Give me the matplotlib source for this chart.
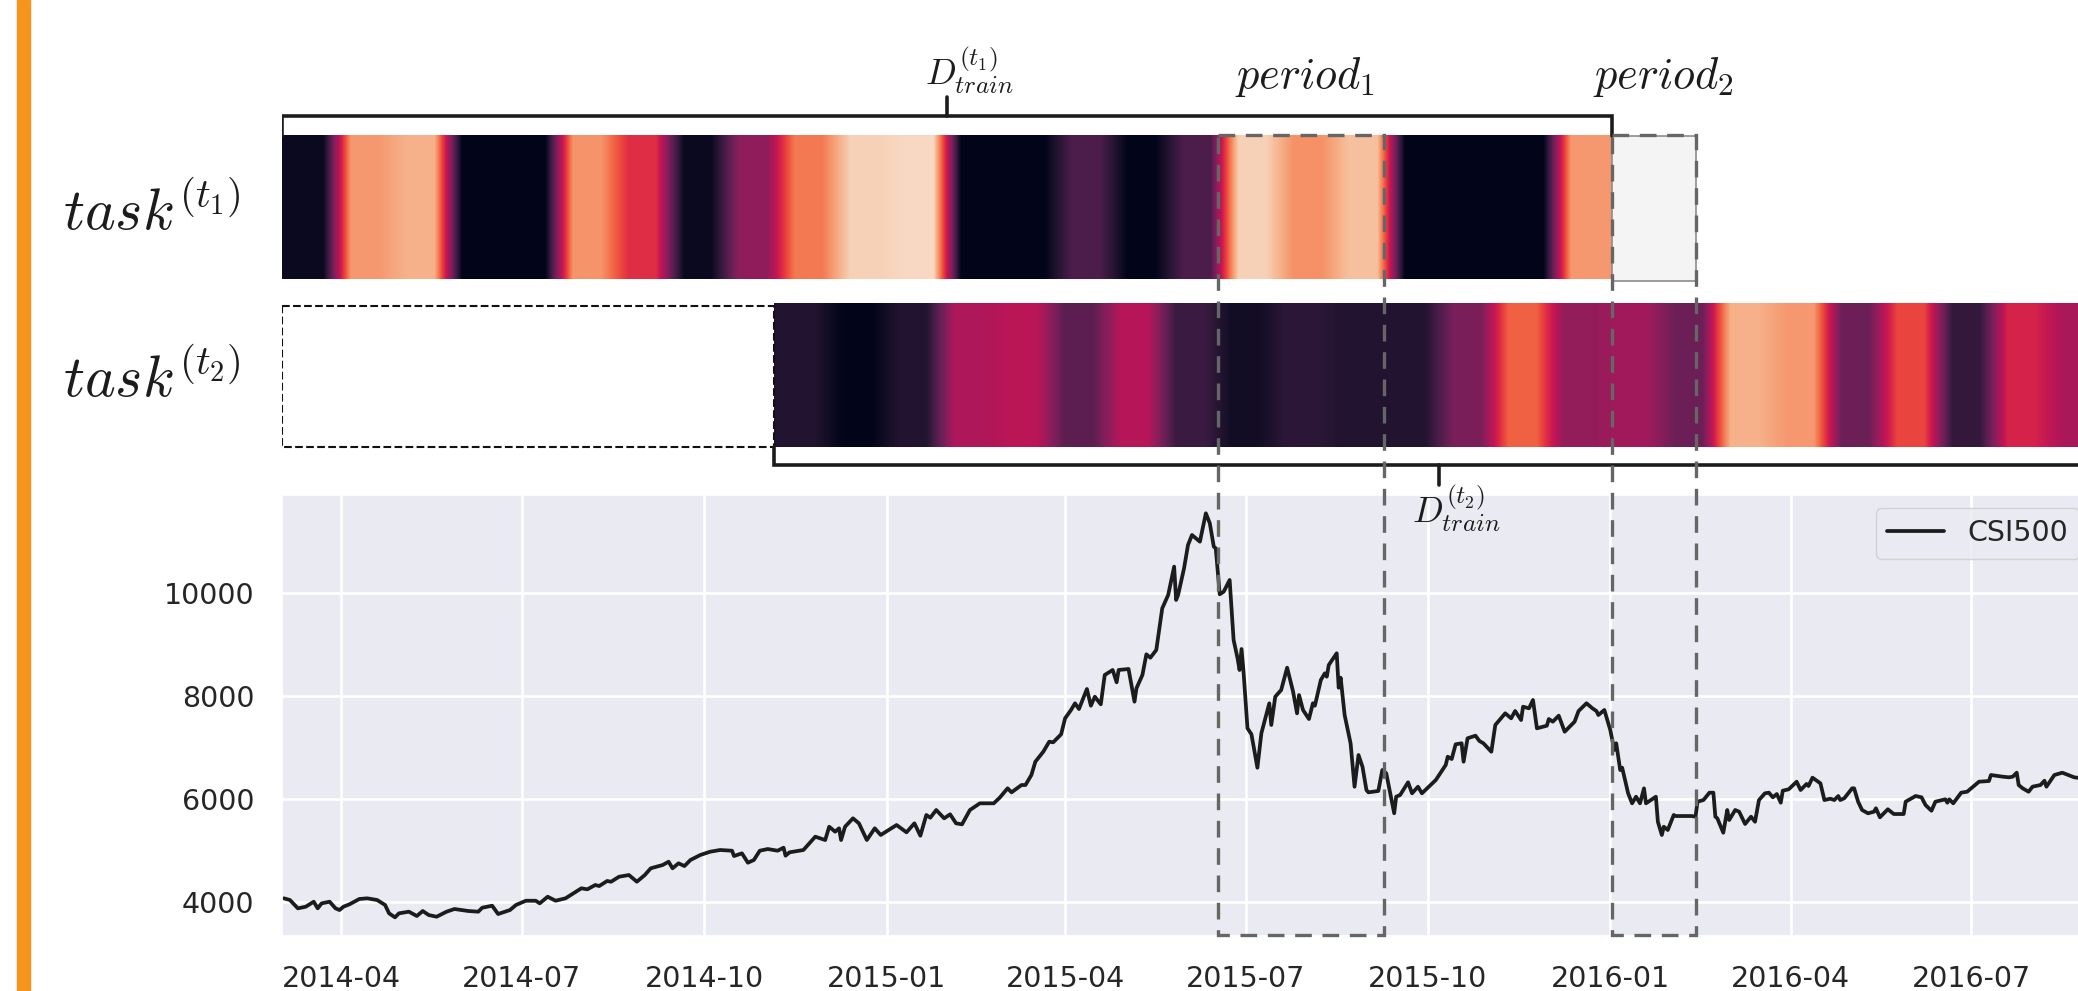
import numpy as np
import pandas as pd
import matplotlib
matplotlib.use("Agg")
import matplotlib.pyplot as plt
import matplotlib.dates as mdates
from matplotlib.patches import Rectangle
import seaborn as sns

W, H = 2078, 991  # output size in pixels

# CSI500 close; x is calendar days after start_day
start_day = "2014-03-02"
csi_days = [
    1, 4, 8, 12, 16, 18, 20, 24, 27, 29, 31, 34, 39, 43, 48, 52, 54, 57, 59, 64,
    68, 71, 74, 78, 83, 87, 94, 99, 101, 106, 109, 115, 118, 123, 128, 130, 134, 138, 143, 147,
    151, 154, 158, 160, 164, 166, 170, 175, 179, 183, 186, 192, 195, 197, 200, 203, 206, 211, 216, 221,
    227, 228, 232, 235, 238, 241, 245, 250, 253, 254, 256, 263, 269, 274, 276, 279, 281, 282, 284, 288,
    291, 295, 299, 302, 310, 315, 319, 322, 325, 327, 330, 334, 337, 340, 343, 347, 352, 359, 362, 366,
    368, 373, 375, 378, 380, 384, 387, 389, 393, 395, 398, 400, 402, 404, 406, 408, 410, 413, 415, 419,
    421, 422, 427, 430, 431, 434, 436, 438, 441, 444, 447, 450, 451, 452, 455, 457, 459, 461, 463, 466,
    468, 470, 471, 473, 475, 478, 480, 482, 483, 484, 485, 487, 489, 492, 494, 498, 499, 501, 504, 507,
    510, 512, 513, 515, 518, 520, 521, 524, 526, 527, 528, 532, 533, 534, 536, 539, 541, 543, 545, 547,
    548, 553, 555, 557, 559, 561, 562, 564, 568, 570, 573, 575, 582, 587, 588, 590, 592, 595, 596, 598,
    602, 604, 606, 610, 612, 617, 620, 622, 625, 626, 629, 631, 633, 638, 639, 641, 644, 647, 652, 654,
    658, 661, 663, 664, 667, 670, 672, 673, 675, 676, 679, 681, 683, 685, 687, 688, 693, 694, 696, 697,
    699, 702, 703, 711, 713, 714, 717, 720, 722, 723, 724, 727, 729, 730, 733, 735, 738, 741, 743, 745,
    748, 750, 752, 754, 756, 757, 760, 764, 766, 769, 770, 772, 776, 778, 781, 783, 785, 786, 788, 792,
    793, 795, 797, 800, 803, 804, 806, 810, 813, 818, 819, 824, 827, 829, 832, 834, 839, 840, 841, 843,
    847, 850, 855, 856, 861, 862, 868, 871, 873, 875, 876, 878, 881, 883, 887, 889, 890, 894, 898, 901,
    904, 908, 914,
]
csi_close = [
    4066, 4033, 3871, 3903, 4000, 3871, 3968, 4000, 3871, 3838, 3903, 3949, 4053, 4066, 4033, 3936, 3774, 3696, 3774, 3806,
    3722, 3819, 3741, 3708, 3806, 3858, 3819, 3806, 3883, 3922, 3761, 3838, 3936, 4019, 4019, 3968, 4097, 4019, 4066, 4163,
    4261, 4241, 4325, 4305, 4403, 4389, 4486, 4519, 4389, 4519, 4650, 4714, 4778, 4650, 4747, 4694, 4811, 4909, 4973, 5006,
    4992, 4889, 4941, 4759, 4811, 4992, 5025, 4992, 5051, 4895, 4961, 5006, 5265, 5200, 5459, 5362, 5428, 5200, 5459, 5622,
    5525, 5200, 5428, 5298, 5492, 5350, 5525, 5284, 5687, 5634, 5784, 5622, 5700, 5525, 5505, 5784, 5914, 5914, 6023, 6206,
    6128, 6270, 6270, 6465, 6724, 6918, 7113, 7101, 7257, 7568, 7730, 7860, 7749, 7944, 8138, 7813, 7988, 7840, 8411, 8508,
    8268, 8508, 8527, 7891, 8152, 8411, 8813, 8747, 8897, 9708, 9967, 10518, 9870, 9967, 10486, 10940, 11134, 11070, 11004, 11556,
    11362, 10907, 10875, 9980, 10031, 10259, 9091, 8735, 8508, 8916, 8475, 7373, 7257, 6607, 7276, 7860, 7438, 7988, 8119, 8553,
    8086, 7665, 8021, 7730, 7554, 7860, 7813, 8313, 8443, 8378, 8605, 8833, 8163, 8358, 7632, 7082, 6237, 6854, 6627, 6173,
    6128, 6154, 6562, 6498, 6109, 5720, 6043, 6076, 6323, 6109, 6237, 6109, 6368, 6660, 6821, 6776, 7062, 7082, 6724, 7179,
    7230, 7126, 7082, 6918, 7438, 7665, 7568, 7710, 7535, 7794, 7762, 7924, 7373, 7424, 7554, 7502, 7619, 7307, 7502, 7710,
    7860, 7762, 7710, 7632, 7730, 7340, 6951, 7082, 6562, 6607, 6109, 5914, 6043, 5914, 6206, 5914, 6043, 5556, 5298, 5459,
    5395, 5687, 5667, 5667, 5654, 5946, 5978, 6121, 6121, 5654, 5622, 5342, 5784, 5590, 5784, 5751, 5512, 5654, 5556, 5978,
    6109, 6121, 6031, 6095, 5926, 6160, 6187, 6335, 6173, 6290, 6251, 6413, 6303, 5978, 6004, 5978, 6056, 5978, 6011, 6206,
    6206, 5946, 5784, 5720, 5751, 5817, 5642, 5798, 5706, 5706, 5946, 6056, 6031, 5881, 5770, 5946, 5992, 5926, 5992, 5914,
    6121, 6140, 6303, 6335, 6348, 6465, 6432, 6420, 6432, 6510, 6270, 6206, 6140, 6238, 6270, 6354, 6238, 6465, 6510, 6465,
    6420, 6400, 6380,
]

# heat strips, one value per ~28 day block (0..1 on the rocket colormap)
t1_vals = [0.03, 0.79, 0.85, 0.0, 0.0, 0.78, 0.56, 0.03, 0.36, 0.72, 0.93, 0.95,
           0.0, 0.0, 0.2, 0.0, 0.2, 0.93, 0.77, 0.89, 0.0, 0.0, 0.0, 0.79]
t2_vals = [0.09, 0.0, 0.09, 0.43, 0.46, 0.24, 0.45, 0.16, 0.05, 0.12, 0.09, 0.09,
           0.31, 0.67, 0.37, 0.40, 0.28, 0.85, 0.79, 0.28, 0.61, 0.14, 0.53, 0.42]
t1_span = ("2014-03-02", "2016-01-02")
t2_span = ("2014-11-05", "2016-09-06")
period1 = ("2015-06-17", "2015-09-09")
period2 = ("2016-01-02", "2016-02-13")
x_range = ("2014-03-02", "2016-09-02")


def num(s):
    return mdates.date2num(pd.Timestamp(s))


def px_rect(x, y, w, h):
    return [x / W, 1 - (y + h) / H, w / W, h / H]


sns.set_theme(style="darkgrid")
plt.rcParams["font.family"] = ["DejaVu Sans"]
plt.rcParams["mathtext.fontset"] = "cm"
rocket = sns.color_palette("rocket", as_cmap=True)
ink = "#1c1c1c"

fig = plt.figure(figsize=(W / 100, H / 100), dpi=100)

# line chart
ax = fig.add_axes(px_rect(282, 495, 1814, 441))
dates = mdates.date2num((pd.Timestamp(start_day) + pd.to_timedelta(csi_days, unit="D")).values)
ax.plot(dates, csi_close, color=ink, lw=2.7, label="CSI500")
ax.set_xlim(num(x_range[0]), num(x_range[1]))
ax.set_ylim(3333, 11912)
ax.set_yticks([4000, 6000, 8000, 10000])
ax.xaxis.set_major_locator(mdates.MonthLocator(bymonth=[1, 4, 7, 10]))
ax.xaxis.set_major_formatter(mdates.DateFormatter("%Y-%m"))
ax.tick_params(axis="both", length=0, labelsize=20.5, labelcolor="#262626")
ax.tick_params(axis="y", pad=20)
ax.tick_params(axis="x", pad=21)
ax.grid(color="white", lw=1.9)
ax.legend(loc="upper left", bbox_to_anchor=(1876 / W, 1 - 508 / H),
          bbox_transform=fig.transFigure, borderaxespad=0, fontsize=20.5)

# overlay in pixel rows for the strips and annotations
top = fig.add_axes(px_rect(282, 0, 1814, H))
top.patch.set_visible(False)
top.set_zorder(3)


def strip(vals, span, y0, y1):
    img = np.repeat(np.asarray(vals, float), 2)[None, :].repeat(2, axis=0)
    top.imshow(img, cmap=rocket, vmin=0, vmax=1, aspect="auto",
               interpolation="bilinear", interpolation_stage="data",
               extent=(num(span[0]), num(span[1]), y1, y0))


strip(t1_vals, t1_span, 136, 279.5)
strip(t2_vals, t2_span, 303.5, 447)

# empty part of task 2
a, b = num(t1_span[0]), num(t2_span[0])
top.add_patch(Rectangle((a, 305.5), b - a, 141, fill=False, ec="#111111", lw=1.5, ls="--"))

# unknown future block of task 1
a, b = num(period2[0]), num(period2[1])
top.add_patch(Rectangle((a, 136), b - a, 145, fc="#f4f4f4", ec="#8c8c8c", lw=1.2))

# brackets
a, b = num(t1_span[0]), num(t1_span[1])
top.plot([a, a, b, b], [136, 116, 116, 136], color=ink, lw=2.6, solid_joinstyle="miter")
top.plot([(a + b) / 2] * 2, [116, 97], color=ink, lw=2.6)
a, b = num(t2_span[0]), num(t2_span[1])
top.plot([a, a, b, b], [447, 465, 465, 447], color=ink, lw=2.6, solid_joinstyle="miter", clip_on=False)
top.plot([(a + b) / 2] * 2, [465, 485], color=ink, lw=2.6)

# period boxes
for p in (period1, period2):
    a, b = num(p[0]), num(p[1])
    top.add_patch(Rectangle((a, 135), b - a, 800, fill=False, ec="#666666",
                            lw=2.4, ls=(0, (5, 3.2)), zorder=5))

top.set_xlim(num(x_range[0]), num(x_range[1]))
top.set_ylim(H, 0)
top.axis("off")


def label(x, y, s, size, ha="left"):
    fig.text(x / W, 1 - y / H, s, fontsize=size, ha=ha, va="baseline", color=ink)


label(63, 230, r"$task^{(t_1)}$", 42)
label(63, 397, r"$task^{(t_2)}$", 42)
label(1305, 88, r"$period_1$", 32, ha="center")
label(1663, 88, r"$period_2$", 32, ha="center")
label(925, 85, r"$D_{train}^{(t_1)}$", 26)
label(1412, 523, r"$D_{train}^{(t_2)}$", 26)

# orange edge on the left
fig.add_artist(Rectangle((17 / W, 0), 13 / W, 1, transform=fig.transFigure, color="#f7941d"))

fig.savefig("out.png", dpi=100)
